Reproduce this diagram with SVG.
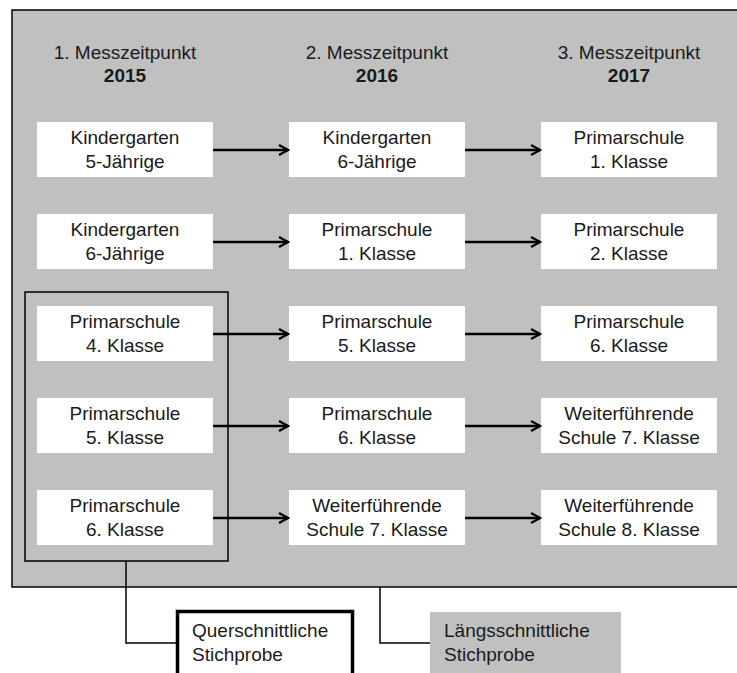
<svg xmlns="http://www.w3.org/2000/svg" width="737" height="673" viewBox="0 0 737 673">
<style>
text{font-family:"Liberation Sans",Arial,sans-serif;font-size:19px;fill:#1a1a1a}
.c{text-anchor:middle}
.b{font-weight:bold}
.box{fill:#fff;stroke:none}
.conn{stroke:#000;stroke-width:2.5;fill:none}
.ln{stroke:#000;stroke-width:1.5;fill:none}
</style>
<defs>
<marker id="ah" viewBox="0 0 12 12" refX="10" refY="6" markerWidth="12" markerHeight="12" markerUnits="userSpaceOnUse" orient="auto">
<path d="M1,1 L10,6 L1,11" fill="none" stroke="#000" stroke-width="2.2"/>
</marker>
</defs>
<rect id="panel" x="12" y="10" width="730" height="577" fill="#c0c0c0" stroke="#000" stroke-width="1.5"/>
<g id="headers">
<text class="c" x="125" y="59">1. Messzeitpunkt</text><text class="c b" x="125" y="82">2015</text>
<text class="c" x="377" y="59">2. Messzeitpunkt</text><text class="c b" x="377" y="82">2016</text>
<text class="c" x="629" y="59">3. Messzeitpunkt</text><text class="c b" x="629" y="82">2017</text>
</g>
<g id="querFrame"><rect x="25" y="292" width="203" height="269" fill="none" stroke="#000" stroke-width="1.5"/></g>
<g id="n11"><rect class="box" x="37" y="122" width="176" height="55"/><text class="c" x="125" y="144">Kindergarten</text><text class="c" x="125" y="168">5-Jährige</text></g>
<g id="n12"><rect class="box" x="289" y="122" width="176" height="55"/><text class="c" x="377" y="144">Kindergarten</text><text class="c" x="377" y="168">6-Jährige</text></g>
<g id="n13"><rect class="box" x="541" y="122" width="176" height="55"/><text class="c" x="629" y="144">Primarschule</text><text class="c" x="629" y="168">1. Klasse</text></g>
<g id="n21"><rect class="box" x="37" y="214" width="176" height="55"/><text class="c" x="125" y="236">Kindergarten</text><text class="c" x="125" y="260">6-Jährige</text></g>
<g id="n22"><rect class="box" x="289" y="214" width="176" height="55"/><text class="c" x="377" y="236">Primarschule</text><text class="c" x="377" y="260">1. Klasse</text></g>
<g id="n23"><rect class="box" x="541" y="214" width="176" height="55"/><text class="c" x="629" y="236">Primarschule</text><text class="c" x="629" y="260">2. Klasse</text></g>
<g id="n31"><rect class="box" x="37" y="306" width="176" height="55"/><text class="c" x="125" y="328">Primarschule</text><text class="c" x="125" y="352">4. Klasse</text></g>
<g id="n32"><rect class="box" x="289" y="306" width="176" height="55"/><text class="c" x="377" y="328">Primarschule</text><text class="c" x="377" y="352">5. Klasse</text></g>
<g id="n33"><rect class="box" x="541" y="306" width="176" height="55"/><text class="c" x="629" y="328">Primarschule</text><text class="c" x="629" y="352">6. Klasse</text></g>
<g id="n41"><rect class="box" x="37" y="398" width="176" height="55"/><text class="c" x="125" y="420">Primarschule</text><text class="c" x="125" y="444">5. Klasse</text></g>
<g id="n42"><rect class="box" x="289" y="398" width="176" height="55"/><text class="c" x="377" y="420">Primarschule</text><text class="c" x="377" y="444">6. Klasse</text></g>
<g id="n43"><rect class="box" x="541" y="398" width="176" height="55"/><text class="c" x="629" y="420">Weiterführende</text><text class="c" x="629" y="444">Schule 7. Klasse</text></g>
<g id="n51"><rect class="box" x="37" y="490" width="176" height="55"/><text class="c" x="125" y="512">Primarschule</text><text class="c" x="125" y="536">6. Klasse</text></g>
<g id="n52"><rect class="box" x="289" y="490" width="176" height="55"/><text class="c" x="377" y="512">Weiterführende</text><text class="c" x="377" y="536">Schule 7. Klasse</text></g>
<g id="n53"><rect class="box" x="541" y="490" width="176" height="55"/><text class="c" x="629" y="512">Weiterführende</text><text class="c" x="629" y="536">Schule 8. Klasse</text></g>
<g id="quer"><rect x="177.5" y="611.5" width="175" height="70" fill="#fff" stroke="#000" stroke-width="3.5"/><text x="192" y="637">Querschnittliche</text><text x="192" y="661">Stichprobe</text></g>
<g id="laengs"><rect x="430" y="612" width="191" height="70" fill="#c0c0c0"/><text x="444" y="637">Längsschnittliche</text><text x="444" y="661">Stichprobe</text></g>
<g id="connectors">
<line class="conn" x1="213" y1="150" x2="288" y2="150" marker-end="url(#ah)"/>
<line class="conn" x1="465" y1="150" x2="540" y2="150" marker-end="url(#ah)"/>
<line class="conn" x1="213" y1="242" x2="288" y2="242" marker-end="url(#ah)"/>
<line class="conn" x1="465" y1="242" x2="540" y2="242" marker-end="url(#ah)"/>
<line class="conn" x1="213" y1="334" x2="288" y2="334" marker-end="url(#ah)"/>
<line class="conn" x1="465" y1="334" x2="540" y2="334" marker-end="url(#ah)"/>
<line class="conn" x1="213" y1="426" x2="288" y2="426" marker-end="url(#ah)"/>
<line class="conn" x1="465" y1="426" x2="540" y2="426" marker-end="url(#ah)"/>
<line class="conn" x1="213" y1="518" x2="288" y2="518" marker-end="url(#ah)"/>
<line class="conn" x1="465" y1="518" x2="540" y2="518" marker-end="url(#ah)"/>
<path class="ln" d="M126,561 V643 H177"/>
<path class="ln" d="M380,587 V643 H430"/>
</g>
</svg>
